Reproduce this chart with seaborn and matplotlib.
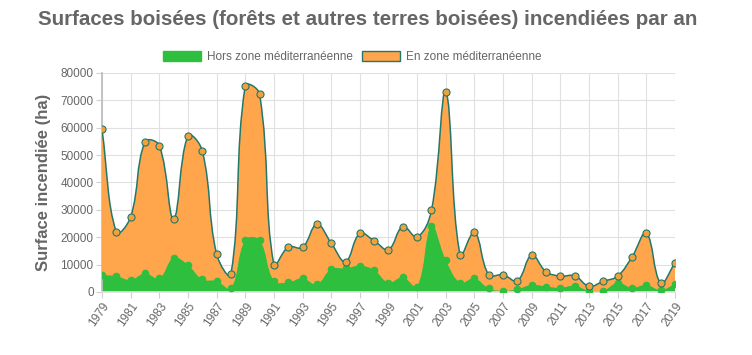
import numpy as np
import matplotlib
matplotlib.use("Agg")
import matplotlib.pyplot as plt
from matplotlib.path import Path
from matplotlib.patches import PathPatch, Patch
import seaborn as sns
import pandas as pd

# DATA
years = list(range(1979, 2020))
hors_zone = [6200, 5800, 4400, 6800, 5000, 12500, 9900, 4600, 4000, 1300,
             19000, 19000, 4100, 3500, 5000, 2800, 8400, 8600, 9600, 8000,
             3400, 5400, 2000, 24200, 11700, 3400, 5000, 1300, 400, 1000,
             2600, 2000, 1500, 2300, 400, 400, 3400, 1500, 2600, 700, 2900]
total = [59400, 21900, 27400, 54800, 53500, 26800, 57000, 51600, 13900, 6500,
         75200, 72300, 10000, 16400, 16300, 24700, 17900, 11100, 21400, 18700,
         15500, 23900, 20100, 29800, 73000, 13500, 21800, 6300, 6300, 4100,
         13400, 7400, 5800, 5900, 2100, 3900, 5800, 12800, 21500, 3300, 10600]
en_zone = [t - h for t, h in zip(total, hors_zone)]

labels = ["Hors zone méditerranéenne", "En zone méditerranéenne"]
title = "Surfaces boisées (forêts et autres terres boisées) incendiées par an"

df = pd.DataFrame({"annee": years, "hors": hors_zone, "en": en_zone})
df["cumul"] = df["hors"] + df["en"]

GREEN = "#2ebf3e"
ORANGE = "#ffa64d"
TEAL = "#23786a"
GREY = "#666666"


# helper: chart.js-like smooth curve (tension 0.4) as bezier segments
def spline(xs, ys, t=0.4, sx=14.3, sy=219 / 80000, ymax=80000):
    n = len(xs)
    ctrl = []
    for i in range(n):
        p0 = (xs[max(i - 1, 0)], ys[max(i - 1, 0)])
        p1 = (xs[i], ys[i])
        p2 = (xs[min(i + 1, n - 1)], ys[min(i + 1, n - 1)])
        d01 = np.hypot((p1[0] - p0[0]) * sx, (p1[1] - p0[1]) * sy)
        d12 = np.hypot((p2[0] - p1[0]) * sx, (p2[1] - p1[1]) * sy)
        s = d01 + d12
        fa = t * d01 / s if s else 0
        fb = t * d12 / s if s else 0
        dx, dy = p2[0] - p0[0], p2[1] - p0[1]
        prev = (p1[0] - fa * dx, min(max(p1[1] - fa * dy, 0), ymax))
        nxt = (p1[0] + fb * dx, min(max(p1[1] + fb * dy, 0), ymax))
        ctrl.append((prev, nxt))
    verts = [(xs[0], ys[0])]
    for i in range(n - 1):
        verts += [ctrl[i][1], ctrl[i + 1][0], (xs[i + 1], ys[i + 1])]
    return verts


def curve_codes(n):
    return [Path.MOVETO] + [Path.CURVE4] * (3 * (n - 1))


x = df["annee"].tolist()
green_v = spline(x, df["hors"].tolist())
top_v = spline(x, df["cumul"].tolist())
n = len(x)

sns.set_theme(style="whitegrid")
plt.rcParams["font.family"] = ["Liberation Sans", "DejaVu Sans"]

fig = plt.figure(figsize=(7.52, 3.55), dpi=100)
ax = fig.add_axes([0.1356, 0.1775, 0.762, 0.617])

# green area (from 0)
gv = green_v + [(x[-1], 0), (x[0], 0), green_v[0]]
gc = curve_codes(n) + [Path.LINETO, Path.LINETO, Path.CLOSEPOLY]
ax.add_patch(PathPatch(Path(gv, gc), facecolor=GREEN, edgecolor=GREEN, lw=1, zorder=2))

# orange area (between green curve and cumulative curve)
ov = top_v + green_v[::-1] + [top_v[0]]
oc = curve_codes(n) + [Path.LINETO] + [Path.CURVE4] * (3 * (n - 1)) + [Path.CLOSEPOLY]
ax.add_patch(PathPatch(Path(ov, oc), facecolor=ORANGE, edgecolor="none", zorder=3))

# orange border line
ax.add_patch(PathPatch(Path(top_v, curve_codes(n)), facecolor="none", edgecolor=TEAL, lw=1.1, zorder=4))

# points
sns.scatterplot(data=df, x="annee", y="hors", color=GREEN, s=22, edgecolor=GREEN,
                linewidth=0.8, ax=ax, zorder=5, legend=False)
sns.scatterplot(data=df, x="annee", y="cumul", color="#f2a03c", s=26, edgecolor=TEAL,
                linewidth=0.8, ax=ax, zorder=6, legend=False)

ax.set_xlim(1979, 2019)
ax.set_ylim(0, 80000)
ax.set_xticks(years[::2])
ax.set_xticklabels([str(y) for y in years[::2]], rotation=55, ha="right",
                   rotation_mode="anchor", fontsize=8.5, color=GREY)
ax.set_yticks(range(0, 80001, 10000))
ax.set_yticklabels([str(v) for v in range(0, 80001, 10000)], fontsize=8.5, color=GREY)
ax.tick_params(axis="both", length=4, width=0.8, color="#d0d0d0", pad=2)
ax.tick_params(axis="x", bottom=True)
ax.tick_params(axis="y", left=True)
ax.grid(True, color="#e0e0e0", lw=0.8)
ax.set_facecolor("white")
for side in ["top", "right"]:
    ax.spines[side].set_visible(False)
ax.spines["left"].set_color("#bdbdbd")
ax.spines["bottom"].set_color("#e0e0e0")
ax.set_xlabel("")
ax.set_ylabel("Surface incendiée (ha)", fontsize=12, fontweight="bold", color=GREY, labelpad=7)

handles = [Patch(facecolor=GREEN, edgecolor=GREEN, lw=1),
           Patch(facecolor=ORANGE, edgecolor=TEAL, lw=1)]
fig.legend(handles, labels, loc="center", bbox_to_anchor=(0.468, 0.84), ncol=2, frameon=False,
           fontsize=8.5, labelcolor=GREY, handlelength=3.2, handleheight=0.9,
           handletextpad=0.5, columnspacing=0.8)

fig.text(0.489, 0.945, title, ha="center", va="center", fontsize=14.8, fontweight="bold", color=GREY)

fig.savefig("out.png", dpi=100)
